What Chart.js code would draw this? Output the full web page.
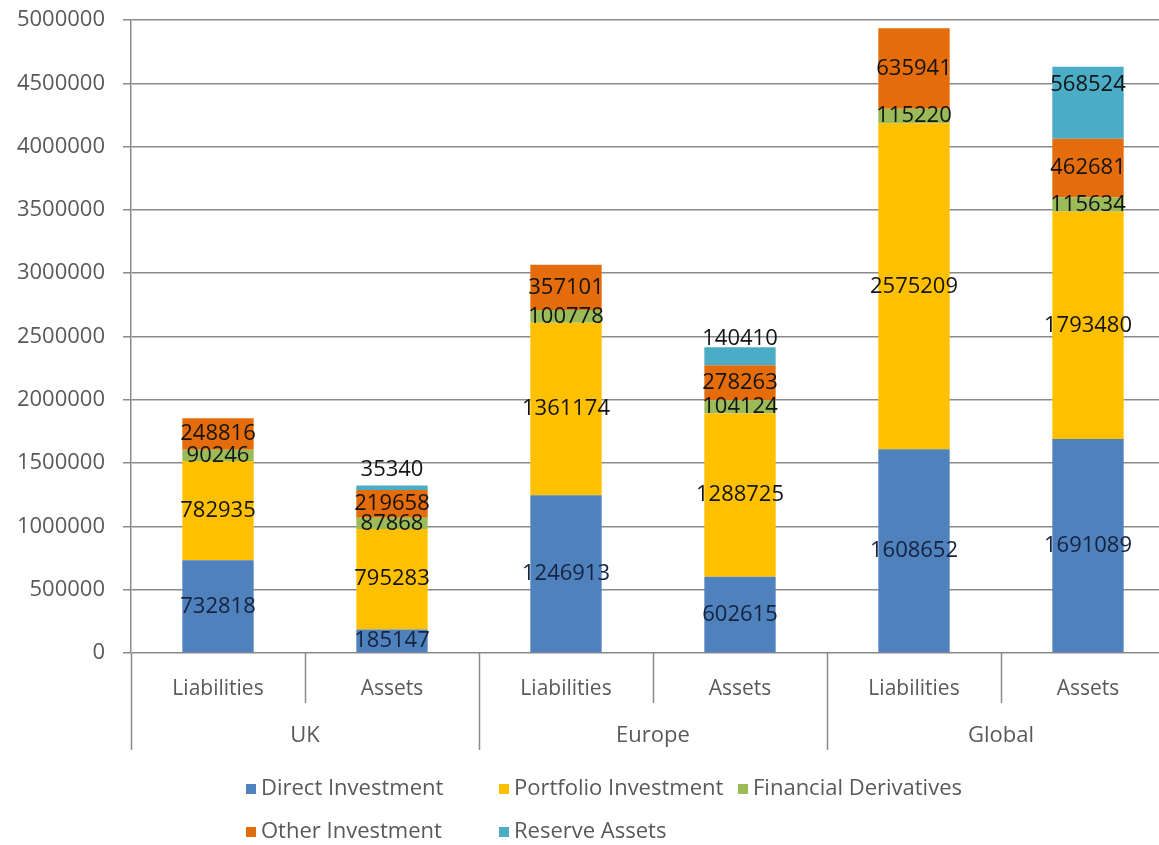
<!DOCTYPE html>
<html>
<head>
<meta charset="utf-8">
<script src="https://cdn.jsdelivr.net/npm/chart.js@4.4.0/dist/chart.umd.min.js"></script>
<style>
  html, body { margin: 0; padding: 0; background: #fff; overflow: hidden; }
  #wrap { width: 1180px; height: 845px; }
</style>
</head>
<body>
<div id="wrap"><canvas id="positionChart" width="1180" height="845"></canvas></div>
<script>
  // categories: two bars per region
  const regions = ['UK', 'Europe', 'Global'];
  const barLabels = ['Liabilities', 'Assets', 'Liabilities', 'Assets', 'Liabilities', 'Assets'];

  // series values, one per bar (UK L, UK A, Europe L, Europe A, Global L, Global A)
  const directInvestment     = [732818, 185147, 1246913, 602615, 1608652, 1691089];
  const portfolioInvestment  = [782935, 795283, 1361174, 1288725, 2575209, 1793480];
  const financialDerivatives = [90246, 87868, 100778, 104124, 115220, 115634];
  const otherInvestment      = [248816, 219658, 357101, 278263, 635941, 462681];
  const reserveAssets        = [null, 35340, null, 140410, null, 568524];

  // value axis
  const yMin = 0;
  const yMax = 5000000;
  const yStep = 500000;

  const seriesNames = ['Direct Investment', 'Portfolio Investment', 'Financial Derivatives', 'Other Investment', 'Reserve Assets'];
  const seriesData = [directInvestment, portfolioInvestment, financialDerivatives, otherInvestment, reserveAssets];
  const seriesColors = ['#4f81bd', '#ffc000', '#9bbb59', '#e46c0a', '#4bacc6'];
  const labelColors = ['#15233f', '#141414', '#141414', '#141414', '#141414'];
  const labelShift = [0, 0, 0, 0, -18];

  const fontFamily = "'Open Sans', sans-serif";
  const axisGrey = '#8a8a8a';
  const textGrey = '#595959';

  Chart.defaults.font.family = fontFamily;

  // value labels centred in each stacked segment
  const segmentLabels = {
    id: 'segmentLabels',
    afterDatasetsDraw(chart) {
      const ctx = chart.ctx;
      ctx.save();
      ctx.font = '22px ' + fontFamily;
      ctx.textAlign = 'center';
      ctx.textBaseline = 'middle';
      chart.data.datasets.forEach((ds, i) => {
        const meta = chart.getDatasetMeta(i);
        meta.data.forEach((bar, j) => {
          const v = ds.data[j];
          if (v == null) return;
          const p = bar.getProps(['x', 'y', 'base'], true);
          ctx.fillStyle = labelColors[i];
          ctx.fillText(String(v), p.x, (p.y + p.base) / 2 + labelShift[i]);
        });
      });
      ctx.restore();
    }
  };

  // region row under the category labels, with the dividing lines
  const regionAxis = {
    id: 'regionAxis',
    afterDraw(chart) {
      const ctx = chart.ctx;
      const area = chart.chartArea;
      const n = barLabels.length;
      const w = (area.right - area.left) / n;
      ctx.save();
      ctx.strokeStyle = axisGrey;
      ctx.lineWidth = 1.5;
      for (let i = 0; i <= n; i++) {
        const x = Math.round(area.left + i * w) + 0.5;
        const len = i % 2 === 0 ? 97 : 50;
        ctx.beginPath();
        ctx.moveTo(x, area.bottom);
        ctx.lineTo(x, area.bottom + len);
        ctx.stroke();
      }
      ctx.fillStyle = textGrey;
      ctx.font = '22px ' + fontFamily;
      ctx.textAlign = 'center';
      ctx.textBaseline = 'middle';
      regions.forEach((r, g) => {
        ctx.fillText(r, area.left + (2 * g + 1) * w, area.bottom + 83);
      });
      ctx.restore();
    }
  };

  // legend in two rows of fixed columns
  const gridLegend = {
    id: 'gridLegend',
    afterDraw(chart) {
      const ctx = chart.ctx;
      const colX = [246, 499, 738];
      const rowY = [789, 832];
      ctx.save();
      ctx.font = '22px ' + fontFamily;
      ctx.textBaseline = 'middle';
      ctx.textAlign = 'left';
      chart.data.datasets.forEach((ds, i) => {
        const x = colX[i % 3];
        const y = rowY[Math.floor(i / 3)];
        ctx.fillStyle = ds.backgroundColor;
        ctx.fillRect(x, y - 5, 10, 10);
        ctx.fillStyle = textGrey;
        ctx.fillText(ds.label, x + 15, y);
      });
      ctx.restore();
    }
  };

  const datasets = seriesNames.map((name, i) => ({
    label: name,
    data: seriesData[i],
    backgroundColor: seriesColors[i],
    borderWidth: 0,
    barPercentage: 0.41,
    categoryPercentage: 1.0
  }));

  new Chart(document.getElementById('positionChart'), {
    type: 'bar',
    data: { labels: barLabels, datasets: datasets },
    options: {
      responsive: false,
      animation: false,
      layout: { padding: { top: 20, right: 5, left: 0, bottom: 0 } },
      plugins: {
        legend: { display: false },
        tooltip: { enabled: false }
      },
      scales: {
        x: {
          stacked: true,
          grid: { display: false },
          border: { display: false },
          ticks: { color: textGrey, font: { size: 21 }, padding: 15, maxRotation: 0 },
          afterFit(scale) { scale.height = 192; }
        },
        y: {
          stacked: true,
          min: yMin,
          max: yMax,
          grid: { color: axisGrey, lineWidth: 1.5, tickLength: 8 },
          border: { display: true, color: axisGrey, width: 1.5 },
          ticks: {
            stepSize: yStep,
            color: textGrey,
            font: { size: 22 },
            padding: 18,
            callback: (v) => String(v)
          },
          afterFit(scale) {
            scale.width = 131;
            scale.paddingTop = 0;
          }
        }
      }
    },
    plugins: [segmentLabels, regionAxis, gridLegend]
  });
</script>
</body>
</html>
